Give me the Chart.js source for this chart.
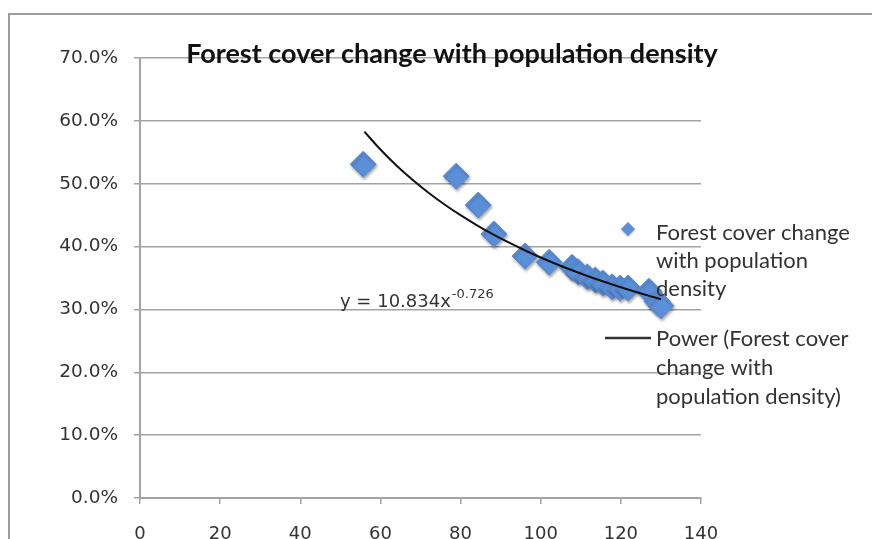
<!DOCTYPE html>
<html>
<head>
<meta charset="utf-8">
<script src="https://cdn.jsdelivr.net/npm/chart.js@4/dist/chart.umd.min.js"></script>
<style>
  html, body { margin: 0; padding: 0; background: #fff; }
  #wrap { position: absolute; left: 0; top: 0; width: 872px; height: 539px; }
</style>
</head>
<body>
<div id="wrap"><canvas id="forest" width="872" height="539"></canvas></div>
<script>
// population density (x) and forest cover change (y, as fraction)
var densityX = [55.7, 78.9, 84.4, 88.3, 96.1, 102.1, 107.8, 109.3, 111.6, 113.6, 115.5, 117.8, 119.8, 121.8, 127.0, 129.0, 130.0];
var forestY  = [0.531, 0.512, 0.466, 0.420, 0.385, 0.375, 0.367, 0.360, 0.352, 0.347, 0.342, 0.336, 0.334, 0.334, 0.329, 0.313, 0.306];

// power trendline as printed on the chart: y = 10.834x^-0.726
var trendA = 10.834;
var trendB = -0.726;
var trendX = [56, 60, 64, 68, 72, 76, 80, 84, 88, 92, 96, 100, 104, 108, 112, 116, 120, 124, 128, 130];

var yTicks = [0, 0.1, 0.2, 0.3, 0.4, 0.5, 0.6, 0.7];
var xTicks = [0, 20, 40, 60, 80, 100, 120, 140];

var chartTitle = 'Forest cover change with population density';
var legendScatter = ['Forest cover change', 'with population', 'density'];
var legendTrend = ['Power (Forest cover', 'change with', 'population density)'];

var pts = densityX.map(function (x, i) { return { x: x, y: forestY[i] }; });
var trendPts = trendX.map(function (x) { return { x: x, y: trendA * Math.pow(x, trendB) }; });

var FONT = 'Lato, "Open Sans", sans-serif';
var TICKFONT = '"DejaVu Sans", Verdana, sans-serif';
var GRID = '#a3a3a3';

var decor = {
  id: 'decor',
  beforeDraw: function (chart) {
    var ctx = chart.ctx;
    ctx.save();
    // outer chart frame (top and left edges visible)
    ctx.strokeStyle = '#9c9c9c';
    ctx.lineWidth = 2;
    ctx.beginPath();
    ctx.moveTo(9, 539);
    ctx.lineTo(9, 14);
    ctx.lineTo(872, 14);
    ctx.stroke();
    ctx.restore();
  },
  beforeDatasetDraw: function (chart, args) {
    if (args.index === 0) {
      chart.ctx.save();
      chart.ctx.shadowColor = 'rgba(0,0,0,0.35)';
      chart.ctx.shadowBlur = 3;
      chart.ctx.shadowOffsetX = 1;
      chart.ctx.shadowOffsetY = 2;
    }
  },
  afterDatasetDraw: function (chart, args) {
    if (args.index === 0) chart.ctx.restore();
  },
  afterDraw: function (chart) {
    var ctx = chart.ctx;
    ctx.save();
    ctx.fillStyle = '#111';
    // title
    ctx.font = 'bold 27px ' + FONT;
    ctx.textAlign = 'center';
    ctx.textBaseline = 'alphabetic';
    ctx.fillText(chartTitle, 452, 63);

    // trendline equation
    ctx.fillStyle = '#333';
    ctx.textAlign = 'left';
    ctx.font = '18px ' + TICKFONT;
    var eq = 'y = 10.834x';
    ctx.fillText(eq, 340, 307);
    var w = ctx.measureText(eq).width;
    ctx.font = '13px ' + TICKFONT;
    ctx.fillText('-0.726', 341 + w, 298);

    // legend
    ctx.fillStyle = '#333';
    ctx.font = '22px ' + FONT;
    ctx.textBaseline = 'middle';
    legendScatter.forEach(function (t, i) { ctx.fillText(t, 656, 233 + i * 28); });
    legendTrend.forEach(function (t, i) { ctx.fillText(t, 656, 339 + i * 29); });

    // legend markers
    ctx.fillStyle = '#5b8fd8';
    ctx.shadowColor = 'rgba(0,0,0,0.3)';
    ctx.shadowBlur = 2;
    ctx.shadowOffsetY = 1;
    ctx.beginPath();
    ctx.moveTo(628, 222);
    ctx.lineTo(635, 229);
    ctx.lineTo(628, 236);
    ctx.lineTo(621, 229);
    ctx.closePath();
    ctx.fill();
    ctx.shadowColor = 'transparent';
    ctx.strokeStyle = '#333';
    ctx.lineWidth = 2.5;
    ctx.beginPath();
    ctx.moveTo(605, 338);
    ctx.lineTo(651, 338);
    ctx.stroke();
    ctx.restore();
  }
};

new Chart(document.getElementById('forest'), {
  type: 'scatter',
  data: {
    datasets: [{
      label: 'Forest cover change with population density',
      data: pts,
      order: 2,
      pointStyle: 'rectRot',
      pointRadius: 13,
      pointHoverRadius: 13,
      backgroundColor: '#5b8fd8',
      borderColor: '#5a8ad0',
      borderWidth: 1
    }, {
      label: 'Power (Forest cover change with population density)',
      type: 'line',
      data: trendPts,
      order: 1,
      showLine: true,
      pointRadius: 0,
      borderColor: '#111',
      borderWidth: 2,
      tension: 0.4,
      fill: false
    }]
  },
  options: {
    responsive: false,
    animation: false,
    layout: { padding: { left: 0, top: 58, right: 171, bottom: 0 } },
    plugins: {
      legend: { display: false },
      title: { display: false },
      tooltip: { enabled: false }
    },
    scales: {
      x: {
        type: 'linear',
        min: 0,
        max: 140,
        afterBuildTicks: function (s) { s.ticks = xTicks.map(function (v) { return { value: v }; }); },
        afterFit: function (s) { s.height = 41; },
        grid: { drawOnChartArea: false, drawTicks: true, tickLength: 6, color: GRID, lineWidth: 1.5 },
        border: { color: GRID, width: 2 },
        ticks: { color: '#333', font: { family: TICKFONT, size: 18 }, padding: 20, maxRotation: 0 }
      },
      y: {
        min: 0,
        max: 0.7,
        afterBuildTicks: function (s) { s.ticks = yTicks.map(function (v) { return { value: v }; }); },
        afterFit: function (s) { s.width = 140; },
        grid: { drawTicks: true, tickLength: 6, color: GRID, lineWidth: 1.5 },
        border: { color: GRID, width: 2 },
        ticks: {
          color: '#333',
          font: { family: TICKFONT, size: 18.5 },
          padding: 16,
          callback: function (v) { return (v * 100).toFixed(1) + '%'; }
        }
      }
    }
  },
  plugins: [decor]
});
</script>
</body>
</html>
